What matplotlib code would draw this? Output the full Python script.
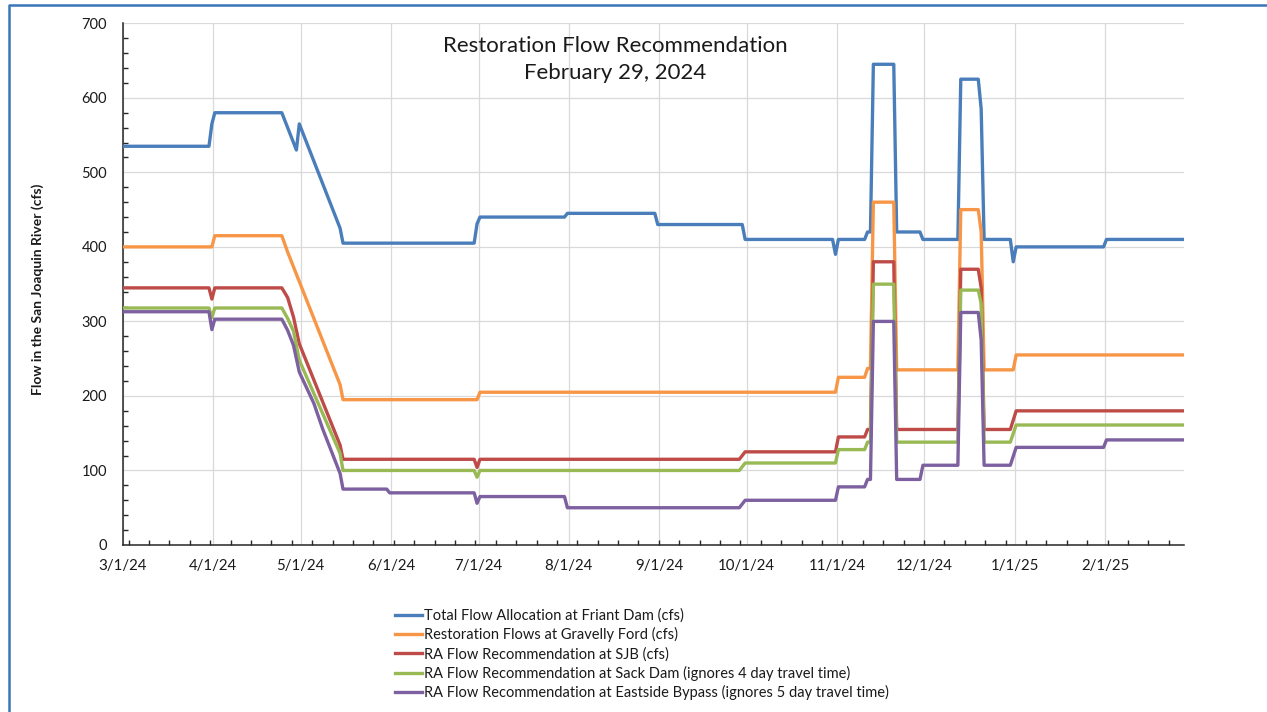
import matplotlib
matplotlib.use("Agg")
import matplotlib.pyplot as plt
import matplotlib.dates as mdates
from matplotlib.lines import Line2D
from matplotlib.ticker import MultipleLocator
import pandas as pd

plt.rcParams['font.family'] = ['Lato', 'DejaVu Sans']

title_text = "Restoration Flow Recommendation\nFebruary 29, 2024"
y_label = "Flow in the San Joaquin River (cfs)"

series_names = [
    "Total Flow Allocation at Friant Dam (cfs)",
    "Restoration Flows at Gravelly Ford (cfs)",
    "RA Flow Recommendation at SJB (cfs)",
    "RA Flow Recommendation at Sack Dam (ignores 4 day travel time)",
    "RA Flow Recommendation at Eastside Bypass (ignores 5 day travel time)",
]
series_colors = ["#4A7EBB", "#F79646", "#BE4B48", "#98B954", "#7D60A0"]

friant_dates = ["2024-03-01", "2024-03-30", "2024-03-31", "2024-04-01", "2024-04-24", "2024-04-29",
                "2024-04-30", "2024-05-14", "2024-05-15", "2024-06-29", "2024-06-30", "2024-07-01",
                "2024-07-30", "2024-07-31", "2024-08-30", "2024-08-31", "2024-09-29", "2024-09-30",
                "2024-10-30", "2024-10-31", "2024-11-01", "2024-11-10", "2024-11-11", "2024-11-12",
                "2024-11-13", "2024-11-20", "2024-11-21", "2024-11-29", "2024-11-30", "2024-12-12",
                "2024-12-13", "2024-12-19", "2024-12-20", "2024-12-21", "2024-12-30", "2024-12-31",
                "2025-01-01", "2025-01-31", "2025-02-01", "2025-02-28"]
friant_vals = [535, 535, 565, 580, 580, 530,
               565, 425, 405, 405, 431, 440,
               440, 445, 445, 430, 430, 410,
               410, 390, 410, 410, 420, 420,
               645, 645, 420, 420, 410, 410,
               625, 625, 585, 410, 410, 380,
               400, 400, 410, 410]

gravelly_dates = ["2024-03-01", "2024-03-31", "2024-04-01", "2024-04-24", "2024-04-26", "2024-05-14",
                  "2024-05-15", "2024-06-30", "2024-07-01", "2024-10-31", "2024-11-01", "2024-11-10",
                  "2024-11-11", "2024-11-12", "2024-11-13", "2024-11-20", "2024-11-21", "2024-12-12",
                  "2024-12-13", "2024-12-19", "2024-12-20", "2024-12-21", "2024-12-31", "2025-01-01",
                  "2025-02-28"]
gravelly_vals = [400, 400, 415, 415, 393, 215,
                 195, 195, 205, 205, 225, 225,
                 237, 237, 460, 460, 235, 235,
                 450, 450, 420, 235, 235, 255,
                 255]

sjb_dates = ["2024-03-01", "2024-03-30", "2024-03-31", "2024-04-01", "2024-04-24", "2024-04-26",
             "2024-04-28", "2024-04-30", "2024-05-14", "2024-05-15", "2024-06-29", "2024-06-30",
             "2024-07-01", "2024-09-28", "2024-09-30", "2024-10-31", "2024-11-01", "2024-11-10",
             "2024-11-11", "2024-11-12", "2024-11-13", "2024-11-20", "2024-11-21", "2024-12-12",
             "2024-12-13", "2024-12-19", "2024-12-20", "2024-12-21", "2024-12-30", "2025-01-01",
             "2025-02-28"]
sjb_vals = [345, 345, 330, 345, 345, 332,
            306, 270, 134, 115, 115, 104,
            115, 115, 125, 125, 145, 145,
            155, 155, 380, 380, 155, 155,
            370, 370, 345, 155, 155, 180,
            180]

sack_dates = ["2024-03-01", "2024-03-30", "2024-03-31", "2024-04-01", "2024-04-24", "2024-04-26",
              "2024-04-28", "2024-04-30", "2024-05-14", "2024-05-15", "2024-06-29", "2024-06-30",
              "2024-07-01", "2024-09-28", "2024-09-30", "2024-10-31", "2024-11-01", "2024-11-10",
              "2024-11-11", "2024-11-12", "2024-11-13", "2024-11-20", "2024-11-21", "2024-12-12",
              "2024-12-13", "2024-12-19", "2024-12-20", "2024-12-21", "2024-12-30", "2025-01-01",
              "2025-02-28"]
sack_vals = [318, 318, 305, 318, 318, 304,
             287, 248, 123, 100, 100, 91,
             100, 100, 110, 110, 128, 128,
             138, 138, 350, 350, 138, 138,
             342, 342, 324, 138, 138, 161,
             161]

eastside_dates = ["2024-03-01", "2024-03-30", "2024-03-31", "2024-04-01", "2024-04-24", "2024-04-26",
                  "2024-04-28", "2024-04-30", "2024-05-05", "2024-05-08", "2024-05-14", "2024-05-15",
                  "2024-05-30", "2024-05-31", "2024-06-29", "2024-06-30", "2024-07-01", "2024-07-30",
                  "2024-07-31", "2024-09-28", "2024-09-30", "2024-10-31", "2024-11-01", "2024-11-10",
                  "2024-11-11", "2024-11-12", "2024-11-13", "2024-11-20", "2024-11-21", "2024-11-29",
                  "2024-11-30", "2024-12-12", "2024-12-13", "2024-12-19", "2024-12-20", "2024-12-21",
                  "2024-12-30", "2025-01-01", "2025-01-31", "2025-02-01", "2025-02-28"]
eastside_vals = [313, 313, 289, 303, 303, 288,
                 268, 232, 190, 156, 96, 75,
                 75, 70, 70, 56, 65, 65,
                 50, 50, 60, 60, 78, 78,
                 88, 88, 300, 300, 88, 88,
                 107, 107, 312, 312, 275, 107,
                 107, 131, 131, 141, 141]

all_dates = [friant_dates, gravelly_dates, sjb_dates, sack_dates, eastside_dates]
all_vals = [friant_vals, gravelly_vals, sjb_vals, sack_vals, eastside_vals]

W, H = 1267, 712
fig = plt.figure(figsize=(W / 100, H / 100), dpi=100)
ax = fig.add_axes([123 / W, 1 - 545 / H, (1184 - 123) / W, (545 - 23.3) / H])

half_day = pd.Timedelta(hours=12)
handles = []
for d, v, c, n in zip(all_dates, all_vals, series_colors, series_names):
    x = pd.to_datetime(d) + half_day
    ln, = ax.plot(x, v, color=c, lw=2.4, label=n, solid_joinstyle='round', zorder=3)
    handles.append(ln)

start = pd.Timestamp("2024-03-01")
ax.set_xlim(start, start + pd.Timedelta(days=364.1))
ax.set_ylim(0, 700)

ax.yaxis.set_major_locator(MultipleLocator(100))
ax.yaxis.set_minor_locator(MultipleLocator(20))
ax.xaxis.set_major_locator(mdates.MonthLocator(bymonthday=1))
ax.xaxis.set_major_formatter(mdates.DateFormatter('%-m/%-d/%y'))
ax.xaxis.set_minor_locator(
    mdates.RRuleLocator(mdates.rrulewrapper(mdates.DAILY, interval=7, dtstart=start.to_pydatetime())))

ax.grid(True, which='major', color='#D9D9D9', lw=0.9, zorder=0)
ax.set_axisbelow(True)
for s in ['top', 'right']:
    ax.spines[s].set_visible(False)
for s in ['left', 'bottom']:
    ax.spines[s].set_color('#262626')
    ax.spines[s].set_linewidth(1.1)

ax.tick_params(axis='y', which='both', direction='in', color='#262626', width=1.0)
ax.tick_params(axis='y', which='major', length=0, pad=11.5, labelsize=10.5, labelcolor='#1a1a1a')
ax.tick_params(axis='y', which='minor', length=3.5)
ax.tick_params(axis='x', which='both', direction='in', color='#262626', width=1.0)
ax.tick_params(axis='x', which='major', length=0, pad=10, labelsize=10.8, labelcolor='#1a1a1a')
ax.tick_params(axis='x', which='minor', length=3.5)

fig.text(615 / W, 1 - 59.5 / H, title_text, ha='center', va='center', fontsize=16,
         color='#1a1a1a', linespacing=1.38)
fig.text(38 / W, 1 - 289 / H, y_label, rotation=90, ha='center', va='center',
         fontsize=10, fontweight='bold', color='#1a1a1a')

leg = fig.legend(handles=handles, loc='upper left', bbox_to_anchor=(395 / W, 1 - 608.5 / H),
                 frameon=False, fontsize=10.5, handlelength=1.85, handletextpad=0.12,
                 labelspacing=0.31, borderpad=0, borderaxespad=0)
for t in leg.get_texts():
    t.set_color('#1a1a1a')

bc = '#3A75B8'
fig.add_artist(Line2D([8.5 / W, 8.5 / W, 1.01], [-0.01, 1 - 4.5 / H, 1 - 4.5 / H],
                      transform=fig.transFigure, color=bc, lw=1.8))

fig.savefig("out.png", dpi=100)
